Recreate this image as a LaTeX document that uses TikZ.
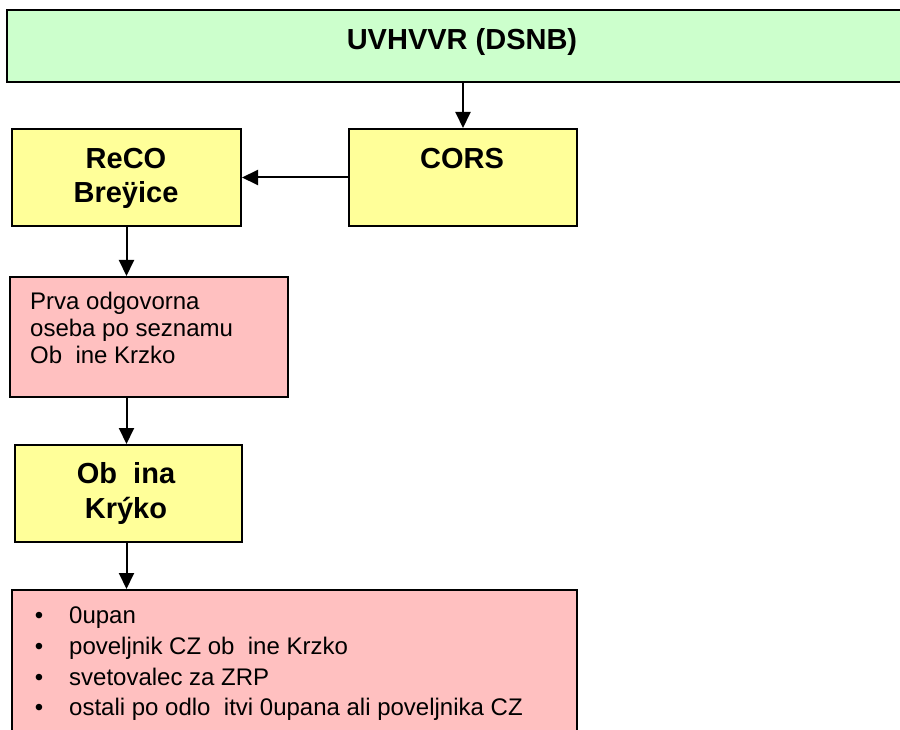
\documentclass[tikz,border=0pt]{standalone}
\usepackage{fontspec}
\setmainfont{Liberation Sans}
\usetikzlibrary{arrows.meta}
\definecolor{cgreen}{HTML}{CCFFCC}
\definecolor{cyellow}{HTML}{FFFF99}
\definecolor{cpink}{HTML}{FFC0C0}
\begin{document}
\begin{tikzpicture}[x=1pt,y=-1pt,
  box/.style={draw=black, line width=2pt, inner sep=0pt, anchor=north west},
  arr/.style={line width=2pt, -{Triangle[length=16pt,width=15pt]}},
  bt/.style={font=\fontsize{29}{34}\selectfont\bfseries, inner sep=0pt, anchor=base},
  rt/.style={font=\fontsize{24}{28}\selectfont, inner sep=0pt, anchor=base west},
  bul/.style={font=\fontsize{24}{28}\selectfont, inner sep=0pt, anchor=base}]
\useasboundingbox (0,0) rectangle (900,730);
\fill[white] (0,0) rectangle (900,730);
\clip (0,0) rectangle (900,730);
% boxes
\node[box, fill=cgreen, minimum width=899pt, minimum height=72pt] (title) at (6,9) {};
\node[box, fill=cyellow, minimum width=228pt, minimum height=97pt] (cors) at (348,128) {};
\node[box, fill=cyellow, minimum width=229pt, minimum height=97pt] (reco) at (11,128) {};
\node[box, fill=cpink, minimum width=278pt, minimum height=120pt] (p1) at (9,276) {};
\node[box, fill=cyellow, minimum width=227pt, minimum height=97pt] (obc) at (14,444) {};
\node[box, fill=cpink, minimum width=565pt, minimum height=160pt] (list) at (11,589) {};
% texts
\node[bt] (ttitle) at (462,49.5) {UVHVVR (DSNB)};
\node[bt] (tcors) at (462,169) {CORS};
\node[bt] (treco1) at (126,169) {ReCO};
\node[bt] (treco2) at (126,203) {Breÿice};
\node[bt] (tobc1) at (126,483) {Ob\ \ ina};
\node[bt] (tobc2) at (126,518) {Krýko};
\node[rt] (tp1) at (30,309) {Prva odgovorna};
\node[rt] (tp2) at (30,336) {oseba po seznamu};
\node[rt] (tp3) at (30,363) {Ob\ \ ine Krzko};
\node[bul] (b1) at (39,623) {\textbullet};
\node[bul] (b2) at (39,654) {\textbullet};
\node[bul] (b3) at (39,685) {\textbullet};
\node[bul] (b4) at (39,715) {\textbullet};
\node[rt] (l1) at (69,623) {0upan};
\node[rt] (l2) at (69,654) {poveljnik CZ ob\ \ ine Krzko};
\node[rt] (l3) at (69,685) {svetovalec za ZRP};
\node[rt] (l4) at (69,715) {ostali po odlo\ \ itvi 0upana ali poveljnika CZ};
% connectors
\draw[arr] (title.south -| cors.north) -- (cors.north);
\draw[arr] (cors.west) -- (reco.east);
\draw[arr] (reco.south) -- (reco.south |- p1.north);
\draw[arr] (reco.south |- p1.south) -- (reco.south |- obc.north);
\draw[arr] (reco.south |- obc.south) -- (reco.south |- list.north);
\end{tikzpicture}
\end{document}
